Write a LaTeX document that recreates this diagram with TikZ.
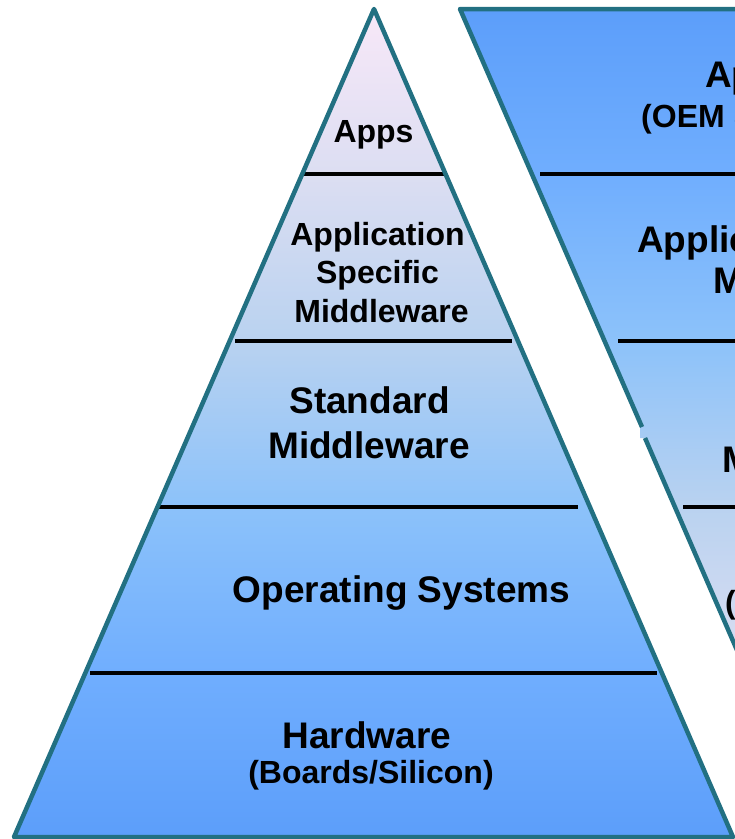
\documentclass[tikz,border=0pt]{standalone}
\usepackage{fontspec}
\setmainfont{Liberation Sans}
\definecolor{edgeteal}{RGB}{34,112,130}
\definecolor{cA}{RGB}{92,158,250}
\definecolor{cB}{RGB}{112,174,254}
\definecolor{cC}{RGB}{140,194,250}
\definecolor{cD}{RGB}{185,210,240}
\definecolor{cE}{RGB}{220,222,242}
\definecolor{cF}{RGB}{248,232,248}
\pgfdeclareverticalshading{pyrshade}{100bp}{color(0bp)=(cA); color(25bp)=(cA); color(35bp)=(cB); color(45bp)=(cC); color(55bp)=(cD); color(65bp)=(cE); color(75bp)=(cF); color(100bp)=(cF)}
\tikzset{
  outline/.style={draw=edgeteal, line width=4.5pt, line join=round},
  divider/.style={draw=black, line width=4.5pt},
  bigtxt/.style={inner sep=0pt, font=\fontsize{37}{42}\selectfont\bfseries},
  smalltxt/.style={inner sep=0pt, font=\fontsize{32}{38}\selectfont\bfseries},
}
\begin{document}
\begin{tikzpicture}[x=1pt,y=-1pt]
\useasboundingbox (0,0) rectangle (735,839);
\clip (0,0) rectangle (735,839);
% ---------- left pyramid ----------
\coordinate (Ltop) at (374,9);
\coordinate (Lbl) at (14,837);
\coordinate (Lbr) at (733,837);
\path[shading=pyrshade] (Ltop) -- (Lbl) -- (Lbr) -- cycle;
% dividers
\coordinate (d1a) at (302,174); \coordinate (d1b) at (446,174);
\coordinate (d2a) at (235,341); \coordinate (d2b) at (512,341);
\coordinate (d3a) at (157,507); \coordinate (d3b) at (578,507);
\coordinate (d4a) at (90,673);  \coordinate (d4b) at (657,673);
\draw[divider] (d1a) -- (d1b);
\draw[divider] (d2a) -- (d2b);
\draw[divider] (d3a) -- (d3b);
\draw[divider] (d4a) -- (d4b);
\draw[outline] (Ltop) -- (Lbl) -- (Lbr) -- cycle;
% labels
\node[smalltxt, anchor=base] (apps) at (373.5,142) {Apps};
\node[smalltxt, anchor=base] (asm1) at (377.5,245) {Application};
\node[smalltxt, anchor=base] (asm2) at (377.5,283) {Specific};
\node[smalltxt, anchor=base] (asm3) at (381.5,322) {Middleware};
\node[bigtxt, anchor=base] (sm1) at (369.5,413) {Standard};
\node[bigtxt, anchor=base] (sm2) at (369,458) {Middleware};
\node[bigtxt, anchor=base] (os) at (401.5,602) {Operating Systems};
\node[bigtxt, anchor=base] (hw1) at (367,748) {Hardware};
\node[smalltxt, anchor=base] (hw2) at (371,783) {(Boards/Silicon)};
% ---------- right (inverted) pyramid ----------
\coordinate (Rtl) at (460,9);
\coordinate (Rtr) at (1178,9);
\coordinate (Rbot) at (818,837);
\coordinate (Rj1) at (642,427);
\coordinate (Rj0) at (640,423);
\coordinate (Rj2) at (640,438);
\coordinate (Rj3) at (645,438);
\path[shading=pyrshade, shading angle=180] (Rtl) -- (Rtr) -- (Rbot) -- (Rj3) -- (Rj2) -- (Rj0) -- cycle;
\coordinate (e1a) at (540,174); \coordinate (e1b) at (760,174);
\coordinate (e2a) at (618,341); \coordinate (e2b) at (760,341);
\coordinate (e3a) at (683,507); \coordinate (e3b) at (760,507);
\draw[divider] (e1a) -- (e1b);
\draw[divider] (e2a) -- (e2b);
\draw[divider] (e3a) -- (e3b);
\draw[outline] (Rj1) -- (Rtl) -- (Rtr) -- (Rbot) -- (Rj3);
\node[bigtxt, anchor=base west] (r1a) at (705,87) {Applications};
\node[smalltxt, anchor=base west] (r1b) at (641,127) {(OEM \& ISV)};
\node[bigtxt, anchor=base west] (r2a) at (637,252) {Application Specific};
\node[bigtxt, anchor=base west] (r2b) at (713,293) {Middleware};
\node[bigtxt, anchor=base west] (r3a) at (743,427) {Standard};
\node[bigtxt, anchor=base west] (r3b) at (722,472) {Middleware};
\node[smalltxt, anchor=base west] (r4b) at (725,613) {(Systems)};
\end{tikzpicture}
\end{document}
